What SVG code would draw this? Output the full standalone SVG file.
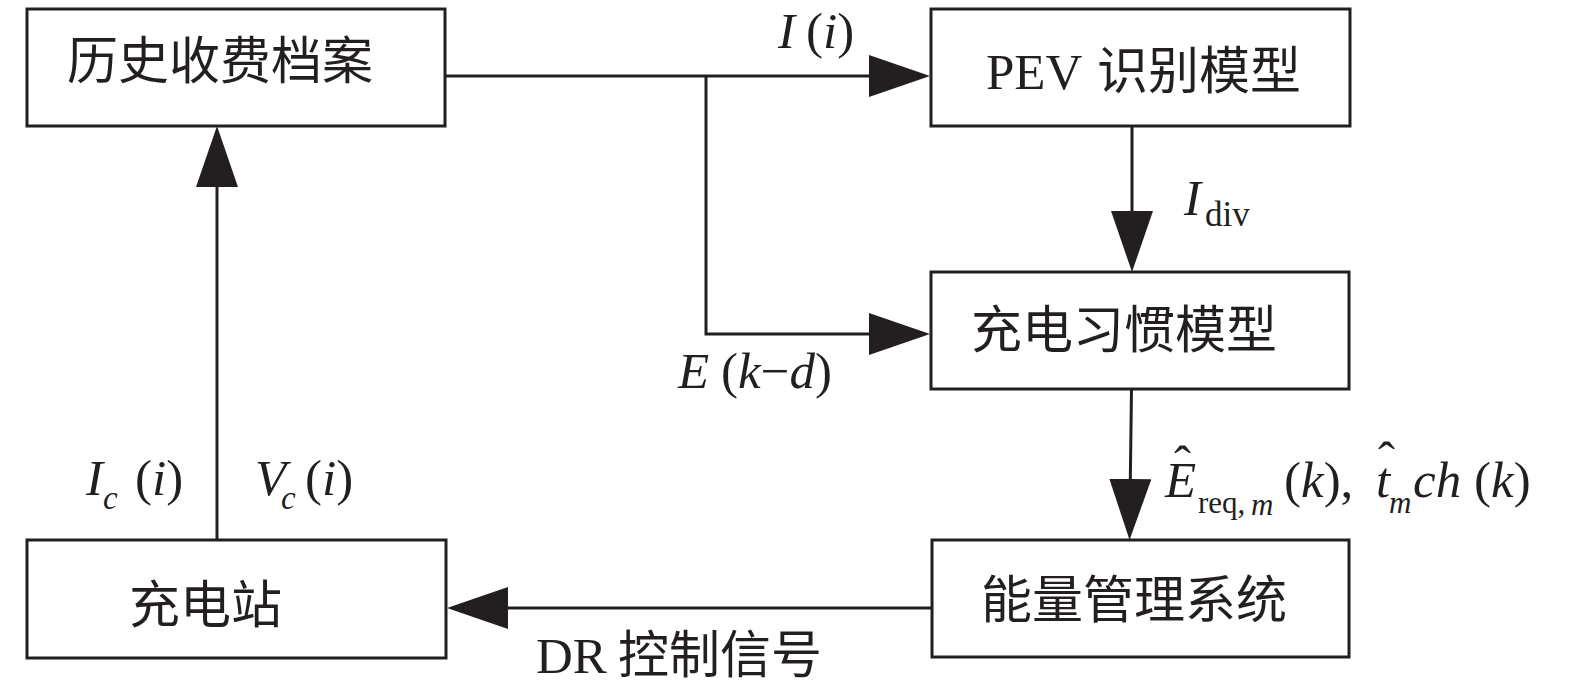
<svg xmlns="http://www.w3.org/2000/svg" width="1575" height="695" viewBox="0 0 1575 695">
<style>
.box{fill:#fff;stroke:#231f20;stroke-width:3}
.cn{font-family:"Noto Sans CJK SC","Liberation Serif",sans-serif;font-size:51px;fill:#231f20}
.lt{font-family:"Liberation Serif","Noto Sans CJK SC",serif;font-size:51px;fill:#231f20}
.it{font-style:italic}
.sub{font-size:33px}
.conn{fill:none;stroke:#231f20;stroke-width:3}
</style>
<defs>
<marker id="ah" viewBox="0 0 61 42" refX="41" refY="21" markerWidth="61" markerHeight="42" markerUnits="userSpaceOnUse" orient="auto">
<path d="M0,0 L61,21 L0,42 Z" fill="#231f20"/>
</marker>
</defs>
<rect width="1575" height="695" fill="#fff"/>
<g id="connectors">
<path class="conn" d="M445,76 H910" marker-end="url(#ah)"/>
<path class="conn" d="M706,76 V334 H910" marker-end="url(#ah)"/>
<path class="conn" d="M1132,126 V252" marker-end="url(#ah)"/>
<path class="conn" d="M1131.5,389 L1129.8,520" marker-end="url(#ah)"/>
<path class="conn" d="M932,608 H467" marker-end="url(#ah)"/>
<path class="conn" d="M217,540 V146" marker-end="url(#ah)"/>
</g>
<g id="labels">
<text class="lt" y="48"><tspan class="it" x="778">I</tspan><tspan x="806">(</tspan><tspan class="it">i</tspan><tspan>)</tspan></text>
<text class="lt" y="215"><tspan class="it" x="1184">I</tspan><tspan class="sub" x="1205" y="226" style="font-size:35px">div</tspan></text>
<text class="lt" y="388"><tspan class="it" x="678">E</tspan><tspan x="721">(</tspan><tspan class="it">k</tspan><tspan>−</tspan><tspan class="it">d</tspan><tspan>)</tspan></text>
<text class="lt" y="497"><tspan class="it" x="1165">E</tspan><tspan class="sub" x="1198" y="513" style="font-size:31px">req,</tspan><tspan class="sub it" x="1251" y="515" style="font-size:31px">m</tspan><tspan x="1284" y="497">(</tspan><tspan class="it">k</tspan><tspan>),</tspan><tspan class="it" x="1376">t</tspan><tspan class="sub it" x="1389" y="513" style="font-size:31px">m</tspan><tspan class="it" x="1413" y="497">ch</tspan><tspan x="1474">(</tspan><tspan class="it">k</tspan><tspan>)</tspan></text>
<text class="lt" x="1174" y="481">ˆ</text>
<text class="lt" x="1378" y="477">ˆ</text>
<text class="lt" y="495"><tspan class="it" x="86">I</tspan><tspan class="sub it" x="103" y="509">c</tspan><tspan x="135" y="495">(</tspan><tspan class="it">i</tspan><tspan>)</tspan></text>
<text class="lt" y="495"><tspan class="it" x="255">V</tspan><tspan class="sub it" x="281" y="509">c</tspan><tspan x="305" y="495">(</tspan><tspan class="it">i</tspan><tspan>)</tspan></text>
<text class="lt" x="536" y="673">DR <tspan class="cn" x="618">控制信号</tspan></text>
</g>
<g id="node-history">
<rect class="box" x="27" y="9" width="418" height="117"/>
<text class="cn" x="67" y="79">历史收费档案</text>
</g>
<g id="node-pev">
<rect class="box" x="931" y="9" width="419" height="117"/>
<text class="lt" x="986" y="89">PEV <tspan class="cn" x="1097">识别模型</tspan></text>
</g>
<g id="node-habit">
<rect class="box" x="931" y="272" width="418" height="117"/>
<text class="cn" x="971" y="348">充电习惯模型</text>
</g>
<g id="node-ems">
<rect class="box" x="932" y="540" width="417" height="117"/>
<text class="cn" x="981" y="618">能量管理系统</text>
</g>
<g id="node-station">
<rect class="box" x="27" y="540" width="419" height="118"/>
<text class="cn" x="129" y="623">充电站</text>
</g>
</svg>
